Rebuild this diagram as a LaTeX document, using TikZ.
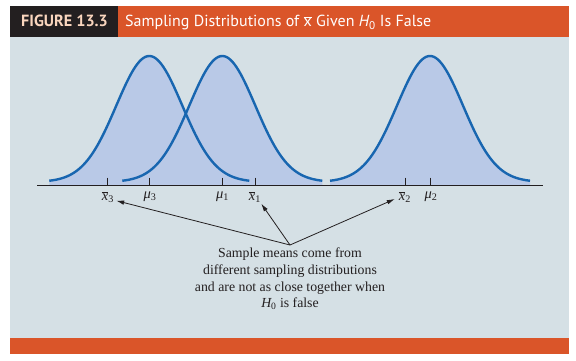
\documentclass[tikz,border=0pt]{standalone}
\usepackage{fontspec}
\setmainfont{Liberation Serif}
\newfontfamily\headfont{PT Sans}
\usetikzlibrary{arrows.meta}

\definecolor{panelbg}{RGB}{213,224,229}
\definecolor{headorange}{RGB}{218,85,41}
\definecolor{inkdark}{RGB}{35,31,32}
\definecolor{headpeach}{RGB}{250,214,190}
\definecolor{curvefill}{RGB}{185,201,231}
\definecolor{curveblue}{RGB}{24,102,176}

% labels under the axis
\newcommand{\xbr}[1]{$\overline{\hbox{\itshape x}}$\textsubscript{#1}}
\newcommand{\mub}[1]{{\itshape μ}\textsubscript{#1}}

\begin{document}
\begin{tikzpicture}[x=1pt, y=-1pt, >={Latex[length=8pt,width=4.5pt]},
    curve/.style={draw=curveblue, line width=2.4pt},
    ticklbl/.style={font=\fontsize{14.5}{16}\selectfont, inner sep=0pt, text=inkdark}]
    \useasboundingbox (0,0) rectangle (576,360);

    % frame, header and bottom bar
    \fill[panelbg] (10,36.7) rectangle (569,338);
    \fill[inkdark] (10,6) rectangle (118.3,36.7);
    \fill[headorange] (118.3,6) rectangle (569,36.7);
    \fill[headorange] (10,338) rectangle (569,354);
    \node[anchor=base west, inner sep=0pt, text=headpeach, font=\headfont\bfseries\fontsize{16.2}{19}\selectfont] (fignum) at (21,26.5) {FIGURE 13.3};
    \node[anchor=base west, inner sep=0pt, text=white, font=\headfont\fontsize{16}{19}\selectfont] (figtitle) at (125,26.5) {Sampling Distributions of $\overline{\hbox{x}}$ Given {\itshape H}\textsubscript{0} Is False};

    % the three sampling distributions
    \foreach \m in {149.3,222.3,430}
        \fill[curvefill] (\m-100,185) -- plot[domain=-100:100, samples=101] ({\m+\x},{182-126*exp(-0.5*(\x/33)^2)}) -- (\m+100,185) -- cycle;
    \foreach \m in {149.3,222.3,430}
        \draw[curve] plot[domain=-100:100, samples=101] ({\m+\x},{182-126*exp(-0.5*(\x/33)^2)});

    % axis and ticks
    \draw[inkdark, line width=0.9pt] (37,185) -- (543,185);
    \foreach \t in {107.3,149.3,222.3,255.3,405.3,430}
        \draw[inkdark, line width=0.8pt] (\t,177.5) -- (\t,185);

    \node[ticklbl] (lx3) at (108,197) {\xbr{3}};
    \node[ticklbl] (lmu3) at (150,197) {\mub{3}};
    \node[ticklbl] (lmu1) at (222.5,197) {\mub{1}};
    \node[ticklbl] (lx1) at (255,197) {\xbr{1}};
    \node[ticklbl] (lx2) at (405,197) {\xbr{2}};
    \node[ticklbl] (lmu2) at (431,197) {\mub{2}};

    % note and arrows
    \node[font=\fontsize{13.8}{16.6}\selectfont, align=center, anchor=north, inner sep=0pt, text=inkdark] (note) at (290,248) {Sample means come from\\different sampling distributions\\and are not as close together when\\{\itshape H}\textsubscript{0} is false};
    \coordinate (meet) at ([yshift=3pt]note.north);
    \draw[->, inkdark, line width=0.8pt] (meet) -- ([xshift=2pt,yshift=2pt]lx3.south east);
    \draw[->, inkdark, line width=0.8pt] (meet) -- ([xshift=0pt,yshift=-1pt]lx1.south east);
    \draw[->, inkdark, line width=0.8pt] (meet) -- ([xshift=-4pt,yshift=-2pt]lx2.west);
\end{tikzpicture}
\end{document}
